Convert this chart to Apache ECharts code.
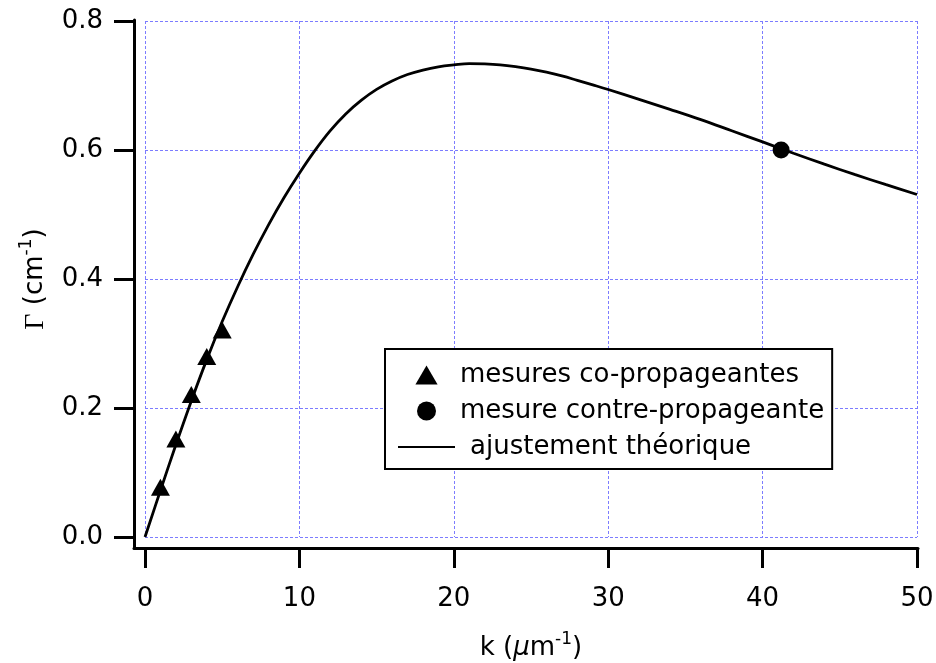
<!DOCTYPE html>
<html><head><meta charset="utf-8">
<script src="https://cdn.jsdelivr.net/npm/echarts@6/dist/echarts.min.js"></script>
<style>html,body{margin:0;padding:0;background:#fff}#c{width:936px;height:663px}</style>
</head><body><div id="c"></div>
<script>
// Theoretical fit curve
const kCurve = [0,1,2,3,4,5,6,7,8,9,10,11,12,13,14,15,16,17,18,19,20,21,22,23,24,25,26,27,28,29,30,32,34,36,38,40,42,44,46,48,50];
const gammaCurve = [0,0.072,0.143,0.211,0.275,0.334,0.388,0.438,0.484,0.526,0.564,0.599,0.630,0.656,0.677,0.694,0.707,0.717,0.724,0.729,0.732,0.734,0.7335,0.732,0.7292,0.7255,0.7207,0.7148,0.708,0.701,0.6938,0.6785,0.663,0.647,0.6298,0.6125,0.595,0.578,0.5618,0.5462,0.531];
// Co-propagating measurements
const kCo = [1,2,3,4,5];
const gammaCo = [0.077,0.152,0.221,0.280,0.321];
// Counter-propagating measurement
const kContre = [41.2];
const gammaContre = [0.600];
// Names
const nameCo = 'mesures co-propageantes';
const nameContre = 'mesure contre-propageante';
const nameFit = 'ajustement théorique';

const FONT = 'DejaVu Sans';
const chart = echarts.init(document.getElementById('c'), null, {renderer: 'canvas'});
const zip = (a, b) => a.map((v, i) => [v, b[i]]);
const GRIDLINE = {show: true, lineStyle: {color: '#7c7cff', type: [3, 2], width: 1}};

const option = {
  animation: false,
  backgroundColor: '#fff',
  textStyle: {fontFamily: FONT},
  grid: [
    {left: 145, right: 19, top: 21, bottom: 126, containLabel: false, outerBoundsMode: 'none'},
    {left: 134, right: 18, top: 20, bottom: 115, containLabel: false, outerBoundsMode: 'none'}
  ],
  xAxis: [
    {
      gridIndex: 0, type: 'value', min: 0, max: 50, interval: 10, offset: 11,
      axisLine: {show: false, onZero: false},
      axisTick: {show: true, length: 20, lineStyle: {color: '#000', width: 3}},
      axisLabel: {margin: 38, fontSize: 26, color: '#000', fontFamily: FONT},
      splitLine: GRIDLINE,
      name: '{t|k (}{mu|μ}{t|m}{sup|-1}{t|)}',
      nameLocation: 'middle', nameGap: 83,
      nameTextStyle: {
        rich: {
          t: {fontSize: 26, color: '#000', fontFamily: FONT},
          mu: {fontSize: 26, color: '#000', fontFamily: FONT, fontStyle: 'italic'},
          sup: {fontSize: 17, color: '#000', fontFamily: FONT, padding: [0, 0, 18, 0]}
        }
      }
    },
    {
      gridIndex: 1, type: 'value', min: 0, max: 1,
      axisLine: {show: true, onZero: false, lineStyle: {color: '#000', width: 3}},
      axisTick: {show: false}, axisLabel: {show: false}, splitLine: {show: false}
    }
  ],
  yAxis: [
    {
      gridIndex: 0, type: 'value', min: 0, max: 0.8, interval: 0.2, offset: 11,
      axisLine: {show: false, onZero: false},
      axisTick: {show: true, length: 20, lineStyle: {color: '#000', width: 3}},
      axisLabel: {margin: 31, fontSize: 26, color: '#000', fontFamily: FONT,
                  formatter: v => v.toFixed(1)},
      splitLine: GRIDLINE,
      name: '{g|Γ}{t| (cm}{sup|-1}{t|)}',
      nameLocation: 'middle', nameGap: 81,
      nameTextStyle: {
        rich: {
          g: {fontSize: 28, color: '#000', fontFamily: 'Liberation Serif'},
          t: {fontSize: 26, color: '#000', fontFamily: FONT},
          sup: {fontSize: 17, color: '#000', fontFamily: FONT, padding: [0, 0, 18, 0]}
        }
      }
    },
    {
      gridIndex: 1, type: 'value', min: 0, max: 1,
      axisLine: {show: true, onZero: false, lineStyle: {color: '#000', width: 3}},
      axisTick: {show: false}, axisLabel: {show: false}, splitLine: {show: false}
    }
  ],
  legend: {
    orient: 'vertical', left: 385, top: 349,
    padding: [13, 8, 9, 12],
    borderColor: '#000', borderWidth: 2, backgroundColor: '#fff',
    itemWidth: 57, itemHeight: 19, itemGap: 10,
    selectedMode: false, symbolKeepAspect: true,
    textStyle: {fontSize: 26, color: '#000', fontFamily: FONT, lineHeight: 26,
                rich: {ind: {fontSize: 26, lineHeight: 26, color: '#000', fontFamily: FONT, padding: [0, 0, 0, 10]}}},
    formatter: n => n === nameFit ? '{ind|' + n + '}' : n,
    data: [
      {name: nameCo, icon: 'path://M0,18 L10.5,0 L21,18 Z'},
      {name: nameContre, icon: 'circle'},
      {name: nameFit, itemStyle: {opacity: 0}}
    ]
  },
  series: [
    {
      name: nameFit, type: 'line', xAxisIndex: 0, yAxisIndex: 0,
      data: zip(kCurve, gammaCurve), symbol: 'none', smooth: 0.4,
      lineStyle: {color: '#000', width: 2.8}, itemStyle: {color: '#000'}, z: 2
    },
    {
      name: nameCo, type: 'scatter', xAxisIndex: 0, yAxisIndex: 0,
      data: zip(kCo, gammaCo), symbol: 'triangle', symbolSize: [19, 17],
      itemStyle: {color: '#000', opacity: 1}, z: 3
    },
    {
      name: nameContre, type: 'scatter', xAxisIndex: 0, yAxisIndex: 0,
      data: zip(kContre, gammaContre), symbol: 'circle', symbolSize: 17,
      itemStyle: {color: '#000', opacity: 1}, z: 3
    }
  ]
};
chart.setOption(option);
</script>
</body></html>
